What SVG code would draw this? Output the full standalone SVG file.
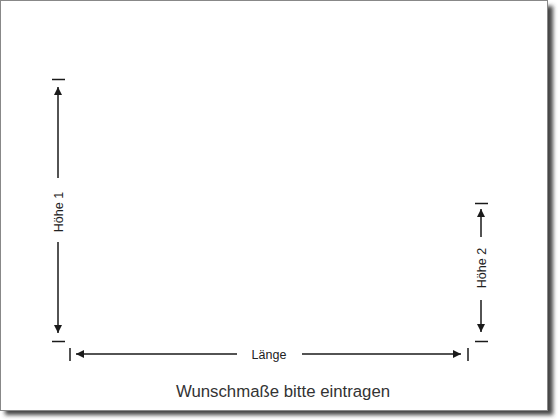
<svg xmlns="http://www.w3.org/2000/svg" width="560" height="420" viewBox="0 0 560 420">
  <defs>
    <filter id="shadow" x="-5%" y="-5%" width="115%" height="115%">
      <feGaussianBlur stdDeviation="2"/>
    </filter>
    <marker id="arr" viewBox="0 0 10 10" refX="10" refY="5" markerWidth="8" markerHeight="8" markerUnits="userSpaceOnUse" orient="auto">
      <path d="M0,0 L10,5 L0,10 z" fill="#1a1a1a"/>
    </marker>
    <style>
      .dim { stroke: #1a1a1a; stroke-width: 1.5; fill: none; }
      .tick { stroke: #1a1a1a; stroke-width: 1.5; }
      .lbl { font-family: "Liberation Sans", Arial, sans-serif; font-size: 12.5px; fill: #222; text-anchor: middle; }
      .title { font-family: "Liberation Sans", Arial, sans-serif; font-size: 16.8px; fill: #333; text-anchor: middle; }
    </style>
  </defs>
  <rect x="0" y="0" width="560" height="420" fill="#ffffff"/>
  <rect x="5" y="6" width="548" height="409" fill="#444" filter="url(#shadow)"/>
  <rect x="0.5" y="0.5" width="547" height="410" fill="#ffffff" stroke="#888" stroke-width="1"/>

  <g id="connectors">
    <line class="dim" x1="58" y1="178" x2="58" y2="87" marker-end="url(#arr)"/>
    <line class="dim" x1="58" y1="242" x2="58" y2="333" marker-end="url(#arr)"/>
    <line class="dim" x1="237" y1="354" x2="76" y2="354" marker-end="url(#arr)"/>
    <line class="dim" x1="302" y1="354" x2="461" y2="354" marker-end="url(#arr)"/>
    <line class="dim" x1="481" y1="237" x2="481" y2="209" marker-end="url(#arr)"/>
    <line class="dim" x1="481" y1="300" x2="481" y2="332" marker-end="url(#arr)"/>
  </g>

  <g id="ticks">
    <line class="tick" x1="52" y1="79.5" x2="65" y2="79.5"/>
    <line class="tick" x1="52" y1="341.5" x2="65" y2="341.5"/>
    <line class="tick" x1="70" y1="348" x2="70" y2="361"/>
    <line class="tick" x1="468" y1="348" x2="468" y2="361"/>
    <line class="tick" x1="475" y1="203.5" x2="488" y2="203.5"/>
    <line class="tick" x1="475" y1="341.5" x2="488" y2="341.5"/>
  </g>

  <g id="hoehe1">
    <text class="lbl" transform="translate(62.5,212) rotate(-90)">Höhe 1</text>
  </g>
  <g id="laenge">
    <text class="lbl" x="269" y="358.5">Länge</text>
  </g>
  <g id="hoehe2">
    <text class="lbl" transform="translate(485.5,268) rotate(-90)">Höhe 2</text>
  </g>
  <g id="title">
    <text class="title" x="283" y="397">Wunschmaße bitte eintragen</text>
  </g>
</svg>
